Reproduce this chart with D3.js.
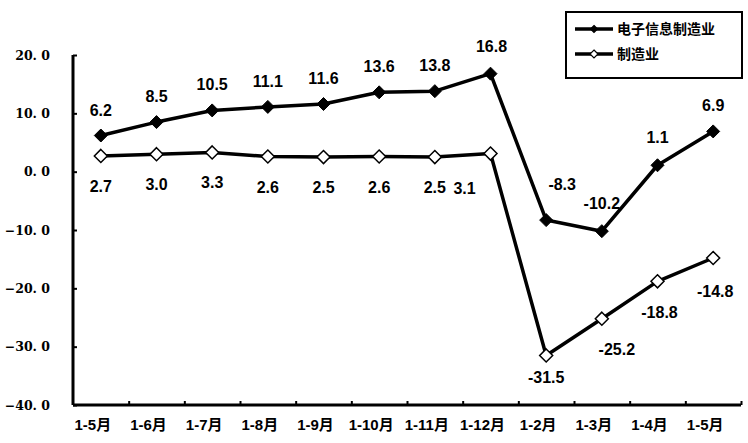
<!DOCTYPE html>
<html><head><meta charset="utf-8">
<script src="https://cdn.jsdelivr.net/npm/d3@7"></script>
<style>body{margin:0;background:#fff}svg{display:block}</style>
</head><body>
<svg id="c" width="748" height="443"></svg>
<script>
const categories = ["1-5月","1-6月","1-7月","1-8月","1-9月","1-10月","1-11月","1-12月","1-2月","1-3月","1-4月","1-5月"];
const electronic = [6.2, 8.5, 10.5, 11.1, 11.6, 13.6, 13.8, 16.8, -8.3, -10.2, 1.1, 6.9];
const manufacturing = [2.7, 3.0, 3.3, 2.6, 2.5, 2.6, 2.5, 3.1, -31.5, -25.2, -18.8, -14.8];
const yTicks = [20, 10, 0, -10, -20, -30, -40];
const seriesNames = ["电子信息制造业", "制造业"];

(function () {
const svg = d3.select("#c");
const pL = 73, pR = 741, pT = 55, pB = 405;
const x = d3.scaleBand().domain(d3.range(categories.length)).range([pL, pR]);
const y = d3.scaleLinear().domain([-40, 20]).range([pB, pT]);
const cx = i => x(i) + x.bandwidth() / 2;

// y axis
const yAxis = svg.append("g").attr("transform", `translate(${pL},0)`)
  .call(d3.axisLeft(y).tickValues(yTicks).tickSize(-4).tickFormat(""));
yAxis.select(".domain").attr("stroke", "#000").attr("stroke-width", 3).attr("d", `M0,${pT}V${pB}`);
yAxis.selectAll(".tick line").attr("stroke", "#000").attr("stroke-width", 2);
svg.append("g").selectAll("text").data(yTicks).join("text")
  .attr("x", 50).attr("y", d => y(d) + 4.5).attr("text-anchor", "end")
  .attr("font-family", "'DejaVu Serif', serif").attr("font-weight", "bold").attr("font-size", 12.5)
  .text(d => d3.format(".1f")(d).replace(".", ". "));

// x axis
const xAxis = svg.append("g").attr("transform", `translate(0,${pB})`)
  .call(d3.axisBottom(d3.scaleLinear().domain([0, 12]).range([pL, pR])).tickValues(d3.range(1, 13)).tickSize(-4).tickFormat(""));
xAxis.select(".domain").attr("stroke", "#000").attr("stroke-width", 3).attr("d", `M${pL},0H${pR}`);
xAxis.selectAll(".tick line").attr("stroke", "#000").attr("stroke-width", 2);

svg.append("g").selectAll("text").data(categories).join("text")
  .attr("x", (d, i) => cx(i) - 8).attr("y", 430).attr("text-anchor", "middle")
  .attr("font-family", "'Liberation Sans', 'Noto Sans CJK SC', sans-serif")
  .attr("font-weight", "bold").attr("font-size", 15)
  .text(d => d);

const line = d3.line().x((d, i) => cx(i)).y(d => y(d));
function diamondPath(r) { return `M0,${-r}L${r},0L0,${r}L${-r},0Z`; }

function drawSeries(data, filled) {
  svg.append("path").datum(data).attr("d", line).attr("fill", "none")
    .attr("stroke", "#000").attr("stroke-width", 3.5).attr("stroke-linejoin", "round");
  svg.append("g").selectAll("path").data(data).join("path")
    .attr("transform", (d, i) => `translate(${cx(i)},${y(d)})`)
    .attr("d", diamondPath(filled ? 6.5 : 6.5))
    .attr("fill", filled ? "#000" : "#fff").attr("stroke", "#000").attr("stroke-width", filled ? 1 : 1.5);
}
drawSeries(electronic, true);
drawSeries(manufacturing, false);

const labelFont = "bold 16px 'Liberation Sans', Arial, sans-serif";
const eOff = [[0,-20],[0,-20],[0,-20],[0,-20],[0,-20],[0,-20],[0,-20],[1,-22],[16,-30],[0,-22],[0,-22],[0,-20]];
svg.append("g").selectAll("text").data(electronic).join("text")
  .attr("x", (d, i) => cx(i) + eOff[i][0]).attr("y", (d, i) => y(d) + eOff[i][1])
  .attr("text-anchor", "middle").style("font", labelFont).text(d => d.toFixed(1));
const mOff = [[0,36],[0,36],[0,36],[0,36],[0,36],[0,36],[0,36],[-26,40],[0,28],[15,36],[2,37],[2,39]];
svg.append("g").selectAll("text").data(manufacturing).join("text")
  .attr("x", (d, i) => cx(i) + mOff[i][0]).attr("y", (d, i) => y(d) + mOff[i][1])
  .attr("text-anchor", "middle").style("font", labelFont).text(d => d.toFixed(1));

// legend
const lg = svg.append("g");
lg.append("rect").attr("x", 566).attr("y", 12).attr("width", 176).attr("height", 66)
  .attr("fill", "#fff").attr("stroke", "#000").attr("stroke-width", 2);
seriesNames.forEach((n, k) => {
  const ly = 29 + k * 25;
  lg.append("line").attr("x1", 575).attr("x2", 613).attr("y1", ly).attr("y2", ly)
    .attr("stroke", "#000").attr("stroke-width", 3.5);
  lg.append("path").attr("transform", `translate(594,${ly})`).attr("d", diamondPath(k ? 4 : 3.5))
    .attr("fill", k ? "#fff" : "#000").attr("stroke", "#000").attr("stroke-width", 1.2);
  lg.append("text").attr("x", 617).attr("y", ly + 5)
    .attr("font-family", "'Noto Sans CJK SC', sans-serif").attr("font-weight", "bold").attr("font-size", 14)
    .text(n);
});
})();
</script>
</body></html>
